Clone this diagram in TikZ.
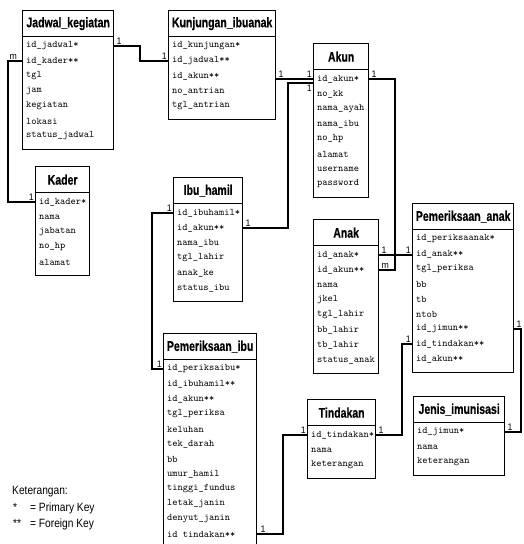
\documentclass[tikz,border=0pt]{standalone}
\usepackage{fontspec}
\newfontfamily\titlefont[FakeStretch=0.75, BoldFeatures={FakeBold=0.4}]{Liberation Sans}
\newfontfamily\notefont[FakeStretch=0.85]{Liberation Sans}
\newfontfamily\cardfont[FakeStretch=0.92]{Liberation Sans}

% \erdtable{name}{left}{top}{width}{title}{row,row,...}
% draws one table: a title cell above a cell listing the fields;
% rows are named <name>-1, <name>-2, ... and the field cell <name>
\newcommand\erdtable[6]{%
  \begingroup
  \foreach \r [count=\i] in {#6} {%
    \node[tblrow] (#1-\i) at ({#2+4},{#3+36+(\i-1)*15}) {\r};
    \xdef\erdrows{\i}}%
  \pgfmathsetmacro\erdh{23+(\erdrows-1)*15}%
  \node[tblbody, minimum width=#4pt, minimum height=\erdh pt] (#1) at (#2,{#3+26}) {};
  \node[tblhead, minimum width=#4pt] (#1-h) at (#2,#3) {#5};
  \endgroup}

\begin{document}
\begin{tikzpicture}[x=1pt,y=-1pt,
  tblhead/.style={draw, line width=1.3pt, anchor=north west, minimum height=26pt,
    inner sep=0pt, font=\titlefont\bfseries\fontsize{14}{15}\selectfont},
  tblbody/.style={draw, line width=1.3pt, anchor=north west, inner sep=0pt},
  tblrow/.style={anchor=west, inner sep=0pt, font=\ttfamily\fontsize{10}{11}\selectfont},
  link/.style={draw, line width=1.2pt, line join=miter},
  card/.style={inner sep=1pt, font=\cardfont\fontsize{9.5}{10}\selectfont},
  note/.style={anchor=west, inner sep=0pt, font=\notefont\fontsize{12}{13}\selectfont}]

\fill[white] (0,0) rectangle (524,544);
\useasboundingbox (0,0) rectangle (524,544);

% tables
\erdtable{jad}{22}{10}{91}{Jadwal\_kegiatan}{id\_jadwal*,id\_kader**,tgl,jam,kegiatan,lokasi,status\_jadwal}
\erdtable{kun}{168}{10}{107}{Kunjungan\_ibuanak}{id\_kunjungan*,id\_jadwal**,id\_akun**,no\_antrian,tgl\_antrian}
\erdtable{akun}{313}{43}{55}{Akun}{id\_akun*,no\_kk,nama\_ayah,nama\_ibu,no\_hp,alamat,username,password}
\erdtable{kader}{35}{166}{54}{Kader}{id\_kader*,nama,jabatan,no\_hp,alamat}
\erdtable{ibu}{173}{177}{69}{Ibu\_hamil}{id\_ibuhamil*,id\_akun**,nama\_ibu,tgl\_lahir,anak\_ke,status\_ibu}
\erdtable{anak}{313}{219}{65}{Anak}{id\_anak*,id\_akun**,nama,jkel,tgl\_lahir,bb\_lahir,tb\_lahir,status\_anak}
\erdtable{pa}{412}{203}{101}{Pemeriksaan\_anak}{id\_periksaanak*,id\_anak**,tgl\_periksa,bb,tb,ntob,id\_jimun**,id\_tindakan**,id\_akun**}
\erdtable{pi}{163}{333}{93}{Pemeriksaan\_ibu}{id\_periksaibu*,id\_ibuhamil**,id\_akun**,tgl\_periksa,keluhan,tek\_darah,bb,umur\_hamil,tinggi\_fundus,letak\_janin,denyut\_janin,id tindakan**}
\erdtable{tin}{307}{399}{68}{Tindakan}{id\_tindakan*,nama,keterangan}
\erdtable{jen}{413}{396}{91}{Jenis\_imunisasi}{id\_jimun*,nama,keterangan}

% x positions of the vertical runs of the relationship lines
\coordinate (jkx) at (140,0);
\coordinate (kdx) at (8,0);
\coordinate (ibx) at (288,0);
\coordinate (akx) at (395,0);
\coordinate (jmx) at (521,0);
\coordinate (tpx) at (402,0);
\coordinate (pix) at (283,0);
\coordinate (ihx) at (152,0);
\coordinate (akin) at ([yshift=-4pt]akun-1.west);

% relationships
\draw[link] (jad.east |- jad-1) -- (jkx |- jad-1) -- (jkx |- kun-2) -- (kun.west |- kun-2);
\draw[link] (jad.west |- jad-2) -- (kdx |- jad-2) -- (kdx |- kader-1) -- (kader.west |- kader-1);
\draw[link] (kun.east |- akun-1) -- (akun.west |- akun-1);
\draw[link] (ibu.east |- ibu-2) -- (ibx |- ibu-2) -- (ibx |- akin) -- (akun.west |- akin);
\draw[link] (akun.east |- akun-1) -- (akx |- akun-1) -- (akx |- anak-2) -- (anak.east |- anak-2);
\draw[link] (anak.east |- anak-1) -- (pa.west |- anak-1);
\draw[link] (pa.east |- pa-7) -- (jmx |- pa-7) -- (jmx |- jen-1) -- (jen.east |- jen-1);
\draw[link] (pa.west |- pa-8) -- (tpx |- pa-8) -- (tpx |- tin-1) -- (tin.east |- tin-1);
\draw[link] (pi.east |- pi-12) -- (pix |- pi-12) -- (pix |- tin-1) -- (tin.west |- tin-1);
\draw[link] (ibu.west |- ibu-1) -- (ihx |- ibu-1) -- (ihx |- pi-1) -- (pi.west |- pi-1);

% cardinalities
\node[card, anchor=south west] (c1)  at ([xshift=1pt,yshift=0.5pt]jad.east |- jad-1) {1};
\node[card, anchor=south east] (c2)  at ([yshift=0.5pt]kun.west |- kun-2) {1};
\node[card, anchor=south east] (c3)  at ([xshift=-4pt,yshift=0.5pt]jad.west |- jad-2) {m};
\node[card, anchor=south east] (c4)  at ([yshift=0.5pt]kader.west |- kader-1) {1};
\node[card, anchor=south west] (c5)  at ([xshift=1pt,yshift=0.5pt]kun.east |- akun-1) {1};
\node[card, anchor=south east] (c6)  at ([yshift=0.5pt]akun.west |- akun-1) {1};
\node[card, anchor=north east] (c7)  at ([yshift=-0.5pt]akun.west |- akin) {1};
\node[card, anchor=south west] (c8)  at ([xshift=1pt,yshift=0.5pt]ibu.east |- ibu-2) {1};
\node[card, anchor=south west] (c9)  at ([xshift=1pt,yshift=0.5pt]akun.east |- akun-1) {1};
\node[card, anchor=south west] (c10) at ([xshift=1pt,yshift=0.5pt]anak.east |- anak-2) {m};
\node[card, anchor=south west] (c11) at ([xshift=1pt,yshift=0.5pt]anak.east |- anak-1) {1};
\node[card, anchor=south east] (c12) at ([yshift=0.5pt]pa.west |- anak-1) {1};
\node[card, anchor=south west] (c13) at ([xshift=1pt,yshift=0.5pt]pa.east |- pa-7) {1};
\node[card, anchor=south west] (c14) at ([xshift=1pt,yshift=0.5pt]jen.east |- jen-1) {1};
\node[card, anchor=south east] (c15) at ([yshift=0.5pt]pa.west |- pa-8) {1};
\node[card, anchor=south west] (c16) at ([xshift=1pt,yshift=0.5pt]tin.east |- tin-1) {1};
\node[card, anchor=south west] (c17) at ([xshift=2pt,yshift=0.5pt]pi.east |- pi-12) {1};
\node[card, anchor=south east] (c18) at ([yshift=0.5pt]tin.west |- tin-1) {1};
\node[card, anchor=south east] (c19) at ([yshift=0.5pt]ibu.west |- ibu-1) {1};
\node[card, anchor=south east] (c20) at ([yshift=0.5pt]pi.west |- pi-1) {1};

% key legend
\node[note] (legend) at (12,492) {Keterangan:};
\node[note] (pkey) at (13,508) {\makebox[17pt][l]{*}= Primary Key};
\node[note] (fkey) at (13,524) {\makebox[17pt][l]{**}= Foreign Key};

\end{tikzpicture}
\end{document}
